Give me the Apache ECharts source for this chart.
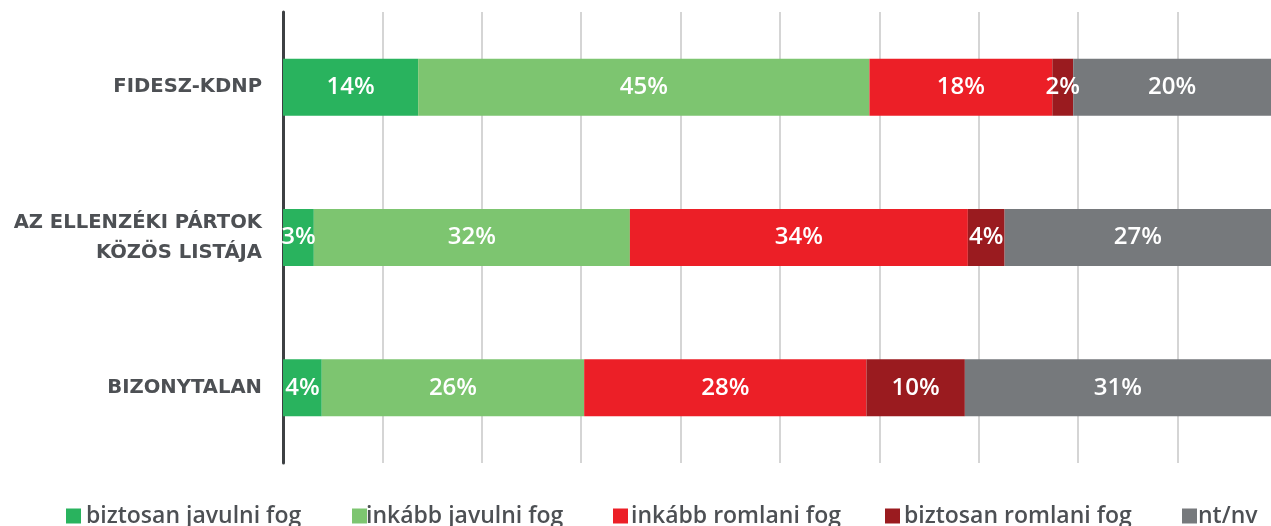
<!DOCTYPE html>
<html>
<head>
<meta charset="utf-8">
<script src="https://cdn.jsdelivr.net/npm/echarts@6/dist/echarts.min.js"></script>
<style>
html,body{margin:0;padding:0;background:#fff;}
#chart{width:1271px;height:526px;}
</style>
</head>
<body>
<div id="chart"></div>
<script>
const categories = ['FIDESZ-KDNP', 'AZ ELLENZÉKI PÁRTOK\nKÖZÖS LISTÁJA', 'BIZONYTALAN'];
const seriesNames = ['biztosan javulni fog', 'inkább javulni fog', 'inkább romlani fog', 'biztosan romlani fog', 'nt/nv'];
const biztosanJavulni = [13.6, 3.1, 3.9];
const inkabbJavulni = [45.4, 31.8, 26.4];
const inkabbRomlani = [18.4, 34.0, 28.4];
const biztosanRomlani = [2.1, 3.7, 9.9];
const ntNv = [20.4, 27.4, 31.4];

const seriesData = [biztosanJavulni, inkabbJavulni, inkabbRomlani, biztosanRomlani, ntNv];
const colors = ['#29b35e', '#7dc570', '#ec1f27', '#9a1b1f', '#76797c'];
const legendLefts = [66, 352, 613, 885, 1182];
const legendTextShift = [0, -6, -2, -1, -4];

const FONT = '"Open Sans", Roboto, sans-serif';

const chart = echarts.init(document.getElementById('chart'), null, {renderer: 'canvas'});

const legends = seriesNames.map((n, i) => ({
  data: [n],
  left: legendLefts[i],
  top: 504,
  itemWidth: 15,
  itemHeight: 15,
  icon: 'rect',
  selectedMode: false,
  padding: 0,
  itemGap: 0,
  textStyle: {
    fontFamily: FONT,
    fontSize: 23,
    fontWeight: 600,
    color: '#4d5054',
    lineHeight: 24,
    padding: [0, 0, 0, legendTextShift[i]]
  }
}));

chart.setOption({
  animation: false,
  color: colors,
  legend: legends,
  grid: {left: 283, right: 0, top: 12, bottom: 63, containLabel: false},
  xAxis: {
    type: 'value',
    min: 0,
    max: 99.4,
    interval: 10,
    axisLine: {show: false},
    axisTick: {show: false},
    axisLabel: {show: false},
    splitLine: {show: true, showMaxLine: false, lineStyle: {color: '#d5d5d5', width: 2}}
  },
  yAxis: {
    type: 'category',
    inverse: true,
    data: categories,
    axisLine: {show: true, lineStyle: {color: '#3d4043', width: 3}},
    axisTick: {show: false},
    axisLabel: {
      margin: 21,
      fontFamily: '"DejaVu Sans", sans-serif',
      fontSize: 19.6,
      fontWeight: 'bold',
      color: '#4d5054',
      lineHeight: 30,
      align: 'right'
    }
  },
  series: seriesNames.map((n, i) => ({
    name: n,
    type: 'bar',
    stack: 'total',
    barWidth: 57,
    data: seriesData[i],
    itemStyle: {color: colors[i]},
    label: {
      show: true,
      position: 'inside',
      color: '#ffffff',
      fontFamily: FONT,
      fontSize: 24,
      fontWeight: 600,
      formatter: p => Math.round(p.value) + '%'
    },
    emphasis: {disabled: true}
  }))
});
</script>
</body>
</html>
